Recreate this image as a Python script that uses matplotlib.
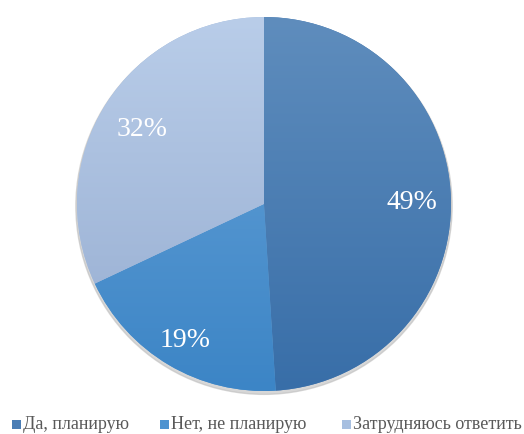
import matplotlib
matplotlib.use("Agg")
import matplotlib.pyplot as plt
import numpy as np
from matplotlib.patches import Rectangle
from matplotlib.colors import to_rgb

categories = ["Да, планирую", "Нет, не планирую", "Затрудняюсь ответить"]
values = [49, 19, 32]
top_colors = ["#5f8dbd", "#68a3d8", "#b9cde9"]
bot_colors = ["#386ea8", "#3c85c6", "#95acd0"]
base_colors = ["#4a7db5", "#4e93d0", "#a7bfe0"]
label_dist = [0.79, 0.83, 0.775]

W, H = 524, 435
fig = plt.figure(figsize=(W / 100, H / 100), dpi=100)
cx, cy, R = 264, 230, 187
L = 1.03
ax = fig.add_axes([(cx - R * L) / W, (cy - R * L) / H, 2 * R * L / W, 2 * R * L / H])
ax.axis("off")

shadow = plt.Circle((0.0, -0.012), 1.006, color="#bdbdbd", alpha=0.6, zorder=0)
ax.add_patch(shadow)

wedges, texts, autotexts = ax.pie(
    values, colors=base_colors, startangle=90, counterclock=False,
    autopct=lambda p: f"{p:.0f}%", pctdistance=0.8, radius=1.0,
    wedgeprops=dict(linewidth=0), textprops=dict(family="Liberation Serif"))

for w, tc, bc in zip(wedges, top_colors, bot_colors):
    t = np.array(to_rgb(tc)); b = np.array(to_rgb(bc))
    frac = np.linspace(0, 1, 256)[:, None]
    grad = t[None, :] * (1 - frac) + b[None, :] * frac
    img = np.repeat(grad[:, None, :], 2, axis=1)
    im = ax.imshow(img, extent=(-1, 1, -1, 1), origin="upper", zorder=1.5,
                   interpolation="bilinear", aspect="auto")
    im.set_clip_path(w)
ax.set_xlim(-L, L)
ax.set_ylim(-L, L)
ax.set_aspect("equal")

for w, t, d in zip(wedges, autotexts, label_dist):
    ang = np.deg2rad((w.theta1 + w.theta2) / 2)
    t.set_position((d * np.cos(ang), d * np.sin(ang) - 0.012))
    t.set_color("white")
    t.set_fontsize(20)
    t.set_zorder(3)

# legend
leg_y = H - 425
sq_x = [12, 160, 342]
for x, lab, col in zip(sq_x, categories, base_colors):
    fig.patches.append(Rectangle((x / W, (leg_y - 4.5) / H), 9 / W, 9 / H,
                                 transform=fig.transFigure, facecolor=col,
                                 edgecolor="none"))
    fig.text((x + 11) / W, leg_y / H, lab, fontsize=13, color="#595959",
             family="Liberation Serif", va="center", ha="left")

fig.savefig("out.png", dpi=100)
